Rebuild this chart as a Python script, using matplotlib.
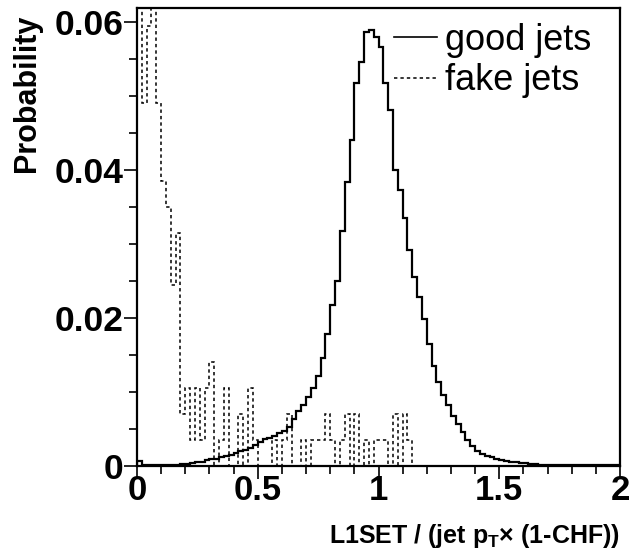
import numpy as np
import matplotlib
matplotlib.use("Agg")
import matplotlib.pyplot as plt
from matplotlib.ticker import MultipleLocator, FixedLocator, FixedFormatter
from matplotlib.lines import Line2D

# ---------------- data ----------------
x_min, x_max, n_bins = 0.0, 2.0, 100
y_max = 0.0619

good_jets = [
    0.0007, 0.0001, 0.0001, 0.0001, 0.0001, 0.0001, 0.0002, 0.0002, 0.0002, 0.0003,
    0.0003, 0.0004, 0.0005, 0.0006, 0.0008, 0.0009, 0.0010, 0.0012, 0.0013, 0.0015,
    0.0017, 0.0020, 0.0022, 0.0025, 0.0029, 0.0033, 0.0036, 0.0038, 0.0041, 0.0044,
    0.0047, 0.0053, 0.0063, 0.0074, 0.0083, 0.0093, 0.0105, 0.0121, 0.0146, 0.0179,
    0.0218, 0.0250, 0.0317, 0.0384, 0.0440, 0.0517, 0.0546, 0.0587, 0.0589, 0.0580,
    0.0566, 0.0517, 0.0481, 0.0400, 0.0373, 0.0335, 0.0292, 0.0256, 0.0228, 0.0198,
    0.0165, 0.0135, 0.0114, 0.0096, 0.0083, 0.0067, 0.0057, 0.0046, 0.0035, 0.0027,
    0.0020, 0.0016, 0.0013, 0.0012, 0.0009, 0.0008, 0.0007, 0.0006, 0.0005, 0.0004,
    0.0004, 0.0003, 0.0003, 0.0002, 0.0002, 0.0002, 0.0002, 0.0001, 0.0001, 0.0001,
    0.0001, 0.0001, 0.0001, 0.0001, 0.0001, 0.0001, 0.0001, 0.0001, 0.0001, 0.0001,
]

fake_jets = [
    0.0700, 0.0490, 0.0595, 0.0700, 0.0490, 0.0385, 0.0350, 0.0245, 0.0315, 0.0070,
    0.0105, 0.0035, 0.0105, 0.0035, 0.0105, 0.0140, 0.0, 0.0035, 0.0105, 0.0,
    0.0, 0.0070, 0.0, 0.0105, 0.0035, 0.0, 0.0, 0.0, 0.0035, 0.0,
    0.0035, 0.0070, 0.0, 0.0, 0.0035, 0.0, 0.0035, 0.0035, 0.0035, 0.0070,
    0.0035, 0.0, 0.0035, 0.0070, 0.0, 0.0070, 0.0, 0.0035, 0.0, 0.0035,
    0.0035, 0.0035, 0.0, 0.0070, 0.0, 0.0070, 0.0035, 0.0, 0.0, 0.0,
    0.0, 0.0, 0.0, 0.0, 0.0, 0.0, 0.0, 0.0, 0.0, 0.0,
    0.0, 0.0, 0.0, 0.0, 0.0, 0.0, 0.0, 0.0, 0.0, 0.0,
    0.0, 0.0, 0.0, 0.0, 0.0, 0.0, 0.0, 0.0, 0.0, 0.0,
    0.0, 0.0, 0.0, 0.0, 0.0, 0.0, 0.0, 0.0, 0.0, 0.0,
]

series_labels = ["good jets", "fake jets"]
x_ticks = [0, 0.5, 1, 1.5, 2]
x_tick_labels = ["0", "0.5", "1", "1.5", "2"]
y_ticks = [0, 0.02, 0.04, 0.06]
y_tick_labels = ["0", "0.02", "0.04", "0.06"]
x_title = "L1SET / (jet p$_\\mathregular{T}$\u00d7 (1-CHF))"
y_title = "Probability"

# ---------------- figure ----------------
plt.rcParams['font.family'] = ['Liberation Sans', 'DejaVu Sans']
W, H, DPI = 630, 552, 100
fig = plt.figure(figsize=(W / DPI, H / DPI), dpi=DPI)
L, R, T, B = 137, 620, 8, 466
ax = fig.add_axes([L / W, (H - B) / H, (R - L) / W, (B - T) / H])

edges = np.linspace(x_min, x_max, n_bins + 1)
ax.stairs(fake_jets, edges, baseline=0, color='black', lw=1.1,
          linestyle=(0, (2.2, 2.0)), label=series_labels[1])
ax.stairs(good_jets, edges, baseline=0, color='black', lw=1.6,
          label=series_labels[0])

ax.set_xlim(x_min, x_max)
ax.set_ylim(0, y_max)

for s in ax.spines.values():
    s.set_linewidth(1.6)

ax.xaxis.set_major_locator(FixedLocator(x_ticks))
ax.xaxis.set_major_formatter(FixedFormatter(x_tick_labels))
ax.xaxis.set_minor_locator(MultipleLocator(0.1))
ax.yaxis.set_major_locator(FixedLocator(y_ticks))
ax.yaxis.set_major_formatter(FixedFormatter(y_tick_labels))
ax.yaxis.set_minor_locator(MultipleLocator(0.005))

ax.tick_params(which='both', direction='out', top=False, right=False, width=1.2)
ax.tick_params(which='major', length=9.5)
ax.tick_params(which='minor', length=5.5)
ax.tick_params(axis='x', which='major', pad=-4, labelsize=25)
ax.tick_params(axis='y', which='major', pad=0.0, labelsize=25.5)
for lab in ax.get_xticklabels() + ax.get_yticklabels():
    lab.set_fontweight('bold')

fig.text(R / W, (H - 543) / H, x_title, ha='right', va='baseline',
         fontsize=18, fontweight='bold')
fig.text(12 / W, (H - 15) / H, y_title, ha='left', va='top', rotation=90,
         fontsize=22, fontweight='bold')

handles = [Line2D([], [], color='black', lw=1.2),
           Line2D([], [], color='black', lw=1.1, linestyle=(0, (2.2, 2.0)))]
leg = ax.legend(handles, series_labels, loc='upper left',
                bbox_to_anchor=((394 - L) / (R - L), 1.0 - (23 - T) / (B - T)),
                frameon=False, fontsize=26, handlelength=1.2,
                handletextpad=0.2, labelspacing=0.15, borderpad=0.0,
                borderaxespad=0.0)

fig.savefig("out.png", dpi=DPI)
